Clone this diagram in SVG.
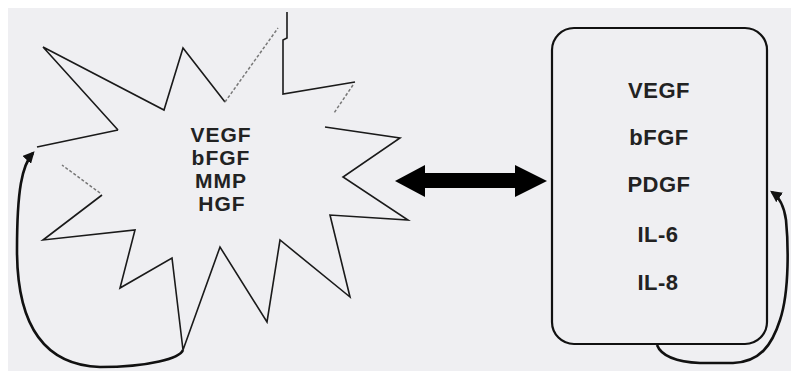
<svg xmlns="http://www.w3.org/2000/svg" width="791" height="371" viewBox="0 0 791 371">
<defs>
<style>
.bg{fill:#efeff2}
.star{fill:none;stroke:#1a1a1a;stroke-width:1.6;stroke-linejoin:miter}
.faint{fill:none;stroke:#777;stroke-width:1.5;stroke-dasharray:3 2}
.loop{fill:none;stroke:#111;stroke-width:2.6}
.lbl{font-family:"Liberation Sans",Arial,sans-serif;font-weight:bold;fill:#222;text-anchor:middle}
</style>
<marker id="ah" viewBox="0 0 10 10" refX="8" refY="5" markerWidth="4.5" markerHeight="4.5" orient="auto" markerUnits="strokeWidth">
<path d="M0,0 L10,5 L0,10 z" fill="#111"/>
</marker>
</defs>
<rect width="791" height="371" fill="#ffffff"/>
<rect class="bg" x="8" y="8" width="783" height="363"/>
<g id="star">
<polyline class="star" points="118,130 43,47 164,110 183,48 225,102"/>
<line class="faint" x1="225" y1="102" x2="278" y2="28"/>
<polyline class="star" points="287,12 287,38 283,40 283,94 355,82"/>
<line class="faint" x1="353" y1="85" x2="334" y2="113"/>
<polyline class="star" points="325,127 400,138 343,177 408,220 330,215 350,297 280,240 267,322 220,247 183,350 172,258 120,288 135,230 43,240 102,195"/>
<line class="faint" x1="100" y1="193" x2="62" y2="165"/>
<polyline class="star" points="37,147 118,130"/>
<text class="lbl" x="221" y="142" font-size="21" letter-spacing="1">VEGF</text>
<text class="lbl" x="221" y="165" font-size="21" letter-spacing="1">bFGF</text>
<text class="lbl" x="221" y="188" font-size="21" letter-spacing="1">MMP</text>
<text class="lbl" x="222" y="211" font-size="21" letter-spacing="1">HGF</text>
</g>
<g id="box">
<rect x="552" y="28" width="215" height="316" rx="22" ry="22" fill="#efeff2" stroke="#111" stroke-width="2.2"/>
<text class="lbl" x="659" y="98" font-size="22" letter-spacing="0.5">VEGF</text>
<text class="lbl" x="659" y="145" font-size="22" letter-spacing="0.5">bFGF</text>
<text class="lbl" x="659" y="192" font-size="22" letter-spacing="0.5">PDGF</text>
<text class="lbl" x="658" y="242" font-size="22" letter-spacing="0.5">IL-6</text>
<text class="lbl" x="658" y="290" font-size="22" letter-spacing="0.5">IL-8</text>
</g>
<g id="connectors">
<polygon points="395,181 425,165 425,173 515,173 515,165 547,181 515,197 515,188 425,188 425,197" fill="#000"/>
<path class="loop" d="M183,350 C180,358 150,367 100,367 C40,365 17,320 17,250 C17,190 22,165 33,153" marker-end="url(#ah)"/>
<path class="loop" d="M657,345 C662,358 680,362 700,363 L733,363 C760,362 772,345 780,320 C790,290 788,240 786,220 C784,205 779,197 772,192" marker-end="url(#ah)"/>
</g>
</svg>
